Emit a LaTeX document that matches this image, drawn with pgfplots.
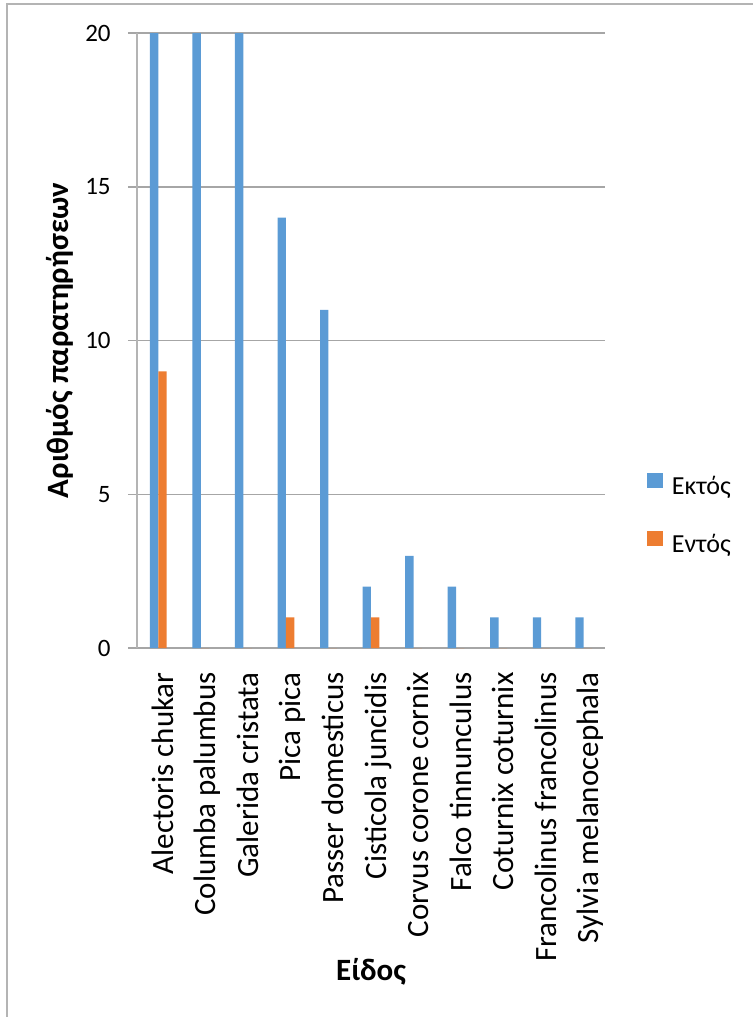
\documentclass[border=0pt]{standalone}
\usepackage{fontspec}
\setmainfont{Carlito}
\usepackage{pgfplots}
\pgfplotsset{compat=1.18}
\definecolor{cblue}{HTML}{5B9BD5}
\definecolor{corange}{HTML}{ED7D31}
\definecolor{gridc}{HTML}{A6A6A6}
\definecolor{framec}{HTML}{B4B4B4}
\begin{document}
\begin{tikzpicture}
\useasboundingbox (-68.5pt,-184.5pt) rectangle (308pt,324pt);
\begin{axis}[
  scale only axis, width=234pt, height=307.5pt,
  at={(0,0)}, anchor=south west,
  ybar=0pt, bar width=4.2pt,
  xmin=-0.5, xmax=10.5, ymin=0, ymax=20,
  xtick={0,1,2,3,4,5,6,7,8,9,10},
  xticklabels={Alectoris chukar,Columba palumbus,Galerida cristata,Pica pica,Passer domesticus,Cisticola juncidis,Corvus corone cornix,Falco tinnunculus,Coturnix coturnix,Francolinus francolinus,Sylvia melanocephala},
  ytick={0,5,10,15,20},
  ymajorgrids, grid style={gridc, line width=0.75pt},
  axis x line*=bottom, axis y line*=left,
  x axis line style={gridc, line width=0.75pt},
  y axis line style={framec, line width=0.75pt},
  xtick style={draw=none},
  ytick style={gridc, line width=0.75pt},
  tick align=outside, major tick length=4.5pt,
  /pgf/number format/assume math mode=true,
  yticklabel style={font=\fontsize{12.5}{15}\selectfont, inner sep=0pt, anchor=east, xshift=-8.5pt},
  xticklabel style={font=\fontsize{15.5}{18}\selectfont, yshift=-7.5pt, xshift=7.5pt, rotate=90, anchor=base east, inner sep=0pt},
  every axis y label/.style={at={(axis description cs:-0.1645,0.5)}, anchor=center, rotate=90, font=\fontsize{15.5}{18}\selectfont\bfseries},
  every axis x label/.style={at={(axis description cs:0.5,-0.527)}, anchor=center, font=\fontsize{15.5}{18}\selectfont\bfseries},
  ylabel={Αριθμός παρατηρήσεων},
  xlabel={Είδος},
  legend style={draw=none, fill=none, inner sep=0pt, outer sep=0pt, anchor=west, at={(axis description cs:1.0897,0.2147)},
    font=\fontsize{13}{15}\selectfont, row sep=15pt, column sep=4.5pt,
    nodes={inner sep=0pt, outer sep=0pt, text height=8pt, text depth=3pt}},
  legend cell align=left,
  legend image code/.code={\fill[#1] (0pt,1pt) rectangle (8pt,8.5pt);},
]
\addplot[fill=cblue, draw=none] coordinates {(0,25) (1,25) (2,25) (3,14) (4,11) (5,2) (6,3) (7,2) (8,1) (9,1) (10,1)};
\addplot[fill=corange, draw=none] coordinates {(0,9) (1,0) (2,0) (3,1) (4,0) (5,1) (6,0) (7,0) (8,0) (9,0) (10,0)};
\legend{Εκτός,Εντός}
\end{axis}
\draw[framec, line width=0.75pt] (-65pt,-184.5pt) -- (-65pt,322pt) -- (308pt,322pt);
\end{tikzpicture}
\end{document}
